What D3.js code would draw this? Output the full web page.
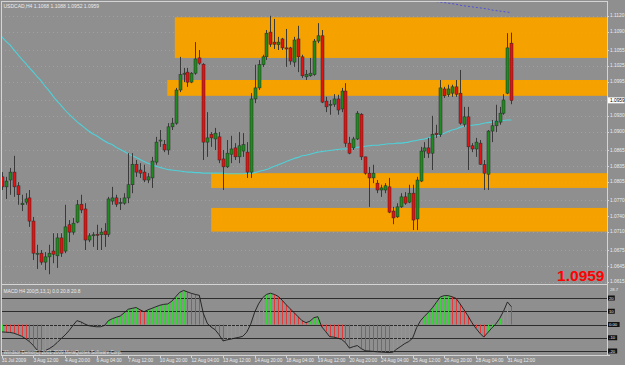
<!DOCTYPE html>
<html>
<head>
<meta charset="utf-8">
<script src="https://cdnjs.cloudflare.com/ajax/libs/d3/7.8.5/d3.min.js"></script>
<style>
  body { margin: 0; background: #8f8f8f; }
  svg { display: block; }
  text { font-family: "Liberation Sans", Arial, sans-serif; }
</style>
</head>
<body>
<div id="chart"></div>
<script>
const width = 625;
const height = 365;

// USDCAD H4 candles, bar 0 = 31 Jul 2009 04:00
const opens = [1.0814, 1.0795, 1.0808, 1.0823, 1.0797, 1.0761, 1.0766, 1.0774, 1.0730, 1.0667,
  1.0669, 1.0652, 1.0662, 1.0673, 1.0664, 1.0698, 1.0673, 1.0723, 1.0709, 1.0728,
  1.0762, 1.0753, 1.0694, 1.0702, 1.0705, 1.0704, 1.0711, 1.0705, 1.0768, 1.0774,
  1.0764, 1.0764, 1.0774, 1.0799, 1.0838, 1.0827, 1.0823, 1.0808, 1.0812, 1.0842,
  1.0882, 1.0876, 1.0865, 1.0909, 1.0916, 1.0979, 1.1009, 1.1013, 1.0994, 1.1011,
  1.1040, 1.1028, 1.0880, 1.0895, 1.0886, 1.0890, 1.0848, 1.0833, 1.0857, 1.0869,
  1.0852, 1.0863, 1.0861, 1.0823, 1.0962, 1.0983, 1.1027, 1.1042, 1.1089, 1.1070,
  1.1065, 1.1076, 1.1059, 1.1059, 1.1032, 1.1076, 1.1042, 1.1004, 1.1006, 1.1008,
  1.1072, 1.1082, 1.0958, 1.0951, 1.0952, 1.0962, 1.0943, 1.0977, 1.0878, 1.0869,
  1.0886, 1.0933, 1.0852, 1.0821, 1.0812, 1.0802, 1.0789, 1.0789, 1.0795, 1.0749,
  1.0738, 1.0757, 1.0776, 1.0766, 1.0783, 1.0734, 1.0806, 1.0863, 1.0869, 1.0859,
  1.0897, 1.0894, 1.0981, 1.0970, 1.0973, 1.0985, 1.0973, 1.0914, 1.0928, 1.0873,
  1.0867, 1.0878, 1.0837, 1.0819, 1.0901, 1.0911, 1.0918, 1.0935, 1.0973, 1.1068];
const highs = [1.0823, 1.0814, 1.0831, 1.0854, 1.0804, 1.0780, 1.0783, 1.0789, 1.0738, 1.0685,
  1.0675, 1.0671, 1.0685, 1.0707, 1.0707, 1.0707, 1.0761, 1.0732, 1.0736, 1.0770,
  1.0780, 1.0764, 1.0707, 1.0709, 1.0723, 1.0717, 1.0726, 1.0776, 1.0795, 1.0780,
  1.0774, 1.0783, 1.0859, 1.0859, 1.0846, 1.0840, 1.0837, 1.0821, 1.0852, 1.0890,
  1.0903, 1.0884, 1.0916, 1.0926, 1.0983, 1.1042, 1.1021, 1.1021, 1.1013, 1.1070,
  1.1055, 1.1030, 1.0937, 1.0899, 1.0907, 1.0899, 1.0865, 1.0884, 1.0892, 1.0878,
  1.0899, 1.0897, 1.0880, 1.0973, 1.1027, 1.1036, 1.1046, 1.1093, 1.1120, 1.1114,
  1.1080, 1.1078, 1.1095, 1.1061, 1.1080, 1.1101, 1.1046, 1.1017, 1.1040, 1.1076,
  1.1106, 1.1093, 1.0966, 1.0960, 1.0971, 1.0970, 1.0983, 1.0992, 1.0890, 1.0890,
  1.0939, 1.0935, 1.0852, 1.0833, 1.0837, 1.0808, 1.0799, 1.0802, 1.0812, 1.0757,
  1.0764, 1.0783, 1.0785, 1.0799, 1.0799, 1.0814, 1.0871, 1.0880, 1.0888, 1.0930,
  1.0913, 1.0998, 1.0985, 1.0989, 1.0989, 1.0998, 1.1017, 1.0947, 1.0947, 1.0878,
  1.0888, 1.0884, 1.0846, 1.0903, 1.0922, 1.0951, 1.0947, 1.0971, 1.1087, 1.1088];
const lows = [1.0789, 1.0772, 1.0780, 1.0776, 1.0761, 1.0749, 1.0761, 1.0719, 1.0656, 1.0639,
  1.0647, 1.0637, 1.0629, 1.0650, 1.0641, 1.0662, 1.0669, 1.0690, 1.0704, 1.0726,
  1.0745, 1.0675, 1.0690, 1.0681, 1.0675, 1.0675, 1.0681, 1.0700, 1.0761, 1.0757,
  1.0751, 1.0761, 1.0764, 1.0783, 1.0814, 1.0812, 1.0804, 1.0802, 1.0793, 1.0837,
  1.0871, 1.0861, 1.0856, 1.0903, 1.0913, 1.0975, 1.0994, 1.0985, 1.0992, 1.1008,
  1.1027, 1.0846, 1.0852, 1.0871, 1.0865, 1.0840, 1.0789, 1.0831, 1.0840, 1.0846,
  1.0840, 1.0852, 1.0812, 1.0812, 1.0954, 1.0979, 1.1023, 1.1036, 1.1061, 1.1057,
  1.1055, 1.1055, 1.1023, 1.1027, 1.1023, 1.1013, 1.1002, 1.0998, 1.1004, 1.1006,
  1.1068, 1.0954, 1.0937, 1.0932, 1.0947, 1.0932, 1.0937, 1.0871, 1.0857, 1.0865,
  1.0884, 1.0846, 1.0818, 1.0757, 1.0802, 1.0783, 1.0776, 1.0783, 1.0745, 1.0724,
  1.0736, 1.0755, 1.0761, 1.0764, 1.0713, 1.0713, 1.0804, 1.0850, 1.0850, 1.0827,
  1.0888, 1.0890, 1.0964, 1.0966, 1.0966, 1.0966, 1.0913, 1.0909, 1.0827, 1.0861,
  1.0852, 1.0837, 1.0789, 1.0789, 1.0880, 1.0899, 1.0913, 1.0932, 1.0971, 1.0952];
const closes = [1.0795, 1.0806, 1.0823, 1.0795, 1.0780, 1.0764, 1.0772, 1.0730, 1.0669, 1.0669,
  1.0652, 1.0662, 1.0669, 1.0667, 1.0698, 1.0669, 1.0719, 1.0709, 1.0726, 1.0761,
  1.0751, 1.0694, 1.0702, 1.0704, 1.0704, 1.0709, 1.0704, 1.0772, 1.0774, 1.0762,
  1.0765, 1.0774, 1.0799, 1.0838, 1.0823, 1.0821, 1.0808, 1.0814, 1.0844, 1.0880,
  1.0884, 1.0865, 1.0909, 1.0916, 1.0979, 1.1008, 1.1011, 1.0994, 1.1011, 1.1038,
  1.1030, 1.0880, 1.0888, 1.0888, 1.0897, 1.0846, 1.0833, 1.0859, 1.0867, 1.0852,
  1.0873, 1.0875, 1.0823, 1.0962, 1.0983, 1.1027, 1.1042, 1.1087, 1.1066, 1.1066,
  1.1070, 1.1059, 1.1057, 1.1034, 1.1074, 1.1042, 1.1006, 1.1009, 1.1011, 1.1072,
  1.1082, 1.0956, 1.0947, 1.0952, 1.0962, 1.0941, 1.0977, 1.0878, 1.0859, 1.0886,
  1.0935, 1.0852, 1.0821, 1.0812, 1.0821, 1.0789, 1.0793, 1.0797, 1.0747, 1.0736,
  1.0757, 1.0776, 1.0764, 1.0783, 1.0732, 1.0808, 1.0863, 1.0869, 1.0859, 1.0895,
  1.0894, 1.0983, 1.0968, 1.0981, 1.0985, 1.0971, 1.0916, 1.0928, 1.0871, 1.0867,
  1.0880, 1.0838, 1.0821, 1.0901, 1.0911, 1.0920, 1.0935, 1.0960, 1.1059, 1.0959];

// cyan moving average, one value per bar
const maValues = [1.1080, 1.1072, 1.1065, 1.1056, 1.1047, 1.1038, 1.1030, 1.1021, 1.1013, 1.1004,
  1.0996, 1.0986, 1.0977, 1.0967, 1.0958, 1.0950, 1.0941, 1.0933, 1.0926, 1.0919,
  1.0913, 1.0907, 1.0901, 1.0896, 1.0892, 1.0887, 1.0882, 1.0878, 1.0875, 1.0870,
  1.0866, 1.0862, 1.0858, 1.0854, 1.0851, 1.0847, 1.0843, 1.0840, 1.0837, 1.0834,
  1.0832, 1.0830, 1.0828, 1.0827, 1.0826, 1.0825, 1.0824, 1.0823, 1.0823, 1.0822,
  1.0822, 1.0821, 1.0821, 1.0821, 1.0821, 1.0821, 1.0821, 1.0820, 1.0820, 1.0820,
  1.0820, 1.0820, 1.0821, 1.0821, 1.0822, 1.0824, 1.0826, 1.0828, 1.0831, 1.0834,
  1.0837, 1.0840, 1.0843, 1.0846, 1.0849, 1.0851, 1.0854, 1.0855, 1.0857, 1.0859,
  1.0861, 1.0862, 1.0863, 1.0864, 1.0865, 1.0866, 1.0867, 1.0867, 1.0868, 1.0869,
  1.0870, 1.0871, 1.0872, 1.0873, 1.0874, 1.0874, 1.0875, 1.0876, 1.0877, 1.0877,
  1.0878, 1.0878, 1.0879, 1.0880, 1.0882, 1.0883, 1.0885, 1.0886, 1.0888, 1.0890,
  1.0892, 1.0894, 1.0897, 1.0900, 1.0903, 1.0905, 1.0908, 1.0910, 1.0911, 1.0912,
  1.0913, 1.0914, 1.0916, 1.0917, 1.0918, 1.0919, 1.0920, 1.0921, 1.0922, 1.0922];

// slow dotted average, only visible near the top right
const slowMaStart = 106;
const slowMaValues = [1.1152, 1.1150, 1.1149, 1.1148, 1.1147, 1.1146, 1.1145, 1.1144, 1.1143, 1.1142,
  1.1140, 1.1139, 1.1138, 1.1137, 1.1136, 1.1135, 1.1134, 1.1133, 1.1131, 1.1130,
  1.1129, 1.1128, 1.1127, 1.1126];

// MACD(5,13,1) histogram values per bar
const macdValues = [-5.6, -5.8, -6.0, -6.5, -7.6, -8.8, -10.7, -12.9, -15.9, -19.5,
  -20.4, -19.7, -18.2, -16.3, -13.7, -10.7, -8.0, -4.7, -0.8, 2.9,
  2.0, 0.4, -0.9, -1.4, -1.7, -1.7, -0.7, 2.9, 4.4, 5.5,
  6.4, 8.9, 11.5, 12.2, 12.8, 11.1, 9.6, 11.1, 12.2, 13.4,
  14.5, 15.2, 15.5, 17.5, 20.9, 24.2, 25.7, 24.6, 23.5, 22.7,
  22.0, 8.5, 1.0, -2.0, -3.9, -7.7, -12.4, -11.6, -11.0, -10.3,
  -9.7, -8.9, -5.8, 0.2, 9.2, 15.6, 20.1, 22.7, 23.6, 22.7,
  21.2, 18.2, 14.9, 11.9, 8.9, 5.9, 2.9, 1.4, 2.5, 5.1,
  5.9, -1.8, -5.4, -9.2, -9.5, -10.3, -11.2, -13.7, -17.8, -16.7,
  -15.9, -18.2, -19.8, -20.0, -20.3, -20.6, -20.8, -21.0, -21.2, -20.9,
  -18.5, -16.5, -14.4, -12.9, -10.3, -2.4, 2.9, 6.2, 9.2, 12.6,
  16.7, 20.8, 21.8, 21.8, 20.9, 19.7, 15.6, 11.1, 6.6, 1.4,
  -2.8, -6.5, -9.5, -6.2, -2.8, 0.2, 4.4, 10.0, 17.0, 13.4];

const priceTicks = [1.1120, 1.1090, 1.1055, 1.1025, 1.0995, 1.0930, 1.0900, 1.0865,
  1.0835, 1.0805, 1.0770, 1.0740, 1.0710, 1.0675, 1.0645, 1.0615];
const timeLabels = ['31 Jul 2009', '3 Aug 12:00', '4 Aug 20:00', '6 Aug 04:00', '7 Aug 12:00',
  '10 Aug 20:00', '12 Aug 04:00', '13 Aug 12:00', '14 Aug 20:00', '18 Aug 04:00',
  '19 Aug 12:00', '20 Aug 20:00', '24 Aug 04:00', '25 Aug 12:00', '26 Aug 20:00',
  '28 Aug 04:00', '31 Aug 12:00'];
const barsPerLabel = 8;

// orange support / resistance rectangles
const zoneStarts = [43.8, 41.9, 53, 53];
const zoneTops = [1.1117, 1.0998, 1.0821, 1.0755];
const zoneBottoms = [1.1040, 1.0968, 1.0793, 1.0710];

const macdLevels = [20, 10, 0, -10, -20];
const macdLevelLabels = ['20', '10', '0.00', '-10', '-20'];
const lastPrice = 1.0959;
const title = 'USDCAD,H4  1.1068 1.1088 1.0952 1.0959';
const macdTitle = 'MACD H4 200(5,13,1) 0.0 20.8 20.8';
const copyright = 'Windsor Demo(C) 2001-2009 MetaQuotes Software Corp.';

// scales
const plotRight = 607;
const mainTop = 2;
const mainBottom = 284;
const macdTop = 286;
const macdBottom = 355;

const x = d3.scaleLinear().domain([0, 129]).range([1.8, 511.4]);
const y = d3.scaleLinear().domain([1.1150, 1.0615]).range([0, 281.6]);
const yMacd = d3.scaleLinear().domain([-20, 20]).range([351, 298]);

const bg = '#8f8f8f';
const frameColor = '#d4d4d4';
const textColor = '#ececec';
const axisFont = 4.8;

const svg = d3.select('#chart')
  .append('svg')
  .attr('width', width)
  .attr('height', height);

svg.append('rect')
  .attr('width', width)
  .attr('height', height)
  .attr('fill', bg);

const defs = svg.append('defs');
defs.append('clipPath').attr('id', 'main-clip')
  .append('rect')
  .attr('x', 1).attr('y', mainTop)
  .attr('width', plotRight - 1).attr('height', mainBottom - mainTop);
defs.append('clipPath').attr('id', 'macd-clip')
  .append('rect')
  .attr('x', 1).attr('y', macdTop)
  .attr('width', plotRight - 1).attr('height', macdBottom - macdTop);

const main = svg.append('g').attr('clip-path', 'url(#main-clip)');

// zones
main.selectAll('rect.zone')
  .data(zoneStarts)
  .enter().append('rect')
  .attr('class', 'zone')
  .attr('x', (d) => x(d))
  .attr('y', (d, i) => y(zoneTops[i]))
  .attr('width', (d) => plotRight - x(d))
  .attr('height', (d, i) => y(zoneBottoms[i]) - y(zoneTops[i]))
  .attr('fill', '#f5a200');

// dotted grid
main.selectAll('line.hgrid')
  .data(priceTicks.concat([1.0960]))
  .enter().append('line')
  .attr('x1', 1).attr('x2', plotRight)
  .attr('y1', (d) => Math.round(y(d)) + 0.5)
  .attr('y2', (d) => Math.round(y(d)) + 0.5)
  .attr('stroke', '#aeaebc')
  .attr('stroke-width', 0.5)
  .attr('stroke-dasharray', '1,3');

// moving averages
const maLine = d3.line()
  .x((d, i) => x(i))
  .y((d) => y(d))
  .curve(d3.curveMonotoneX);

main.append('path')
  .attr('d', maLine(maValues))
  .attr('fill', 'none')
  .attr('stroke', '#4fd0d8')
  .attr('stroke-width', 1.1);

main.append('path')
  .attr('d', d3.line()
    .x((d, i) => x(slowMaStart + i))
    .y((d) => y(d))(slowMaValues))
  .attr('fill', 'none')
  .attr('stroke', '#5050e0')
  .attr('stroke-width', 1)
  .attr('stroke-dasharray', '2,2');

// candles
const bars = d3.range(opens.length);
const candle = main.selectAll('g.candle')
  .data(bars)
  .enter().append('g')
  .attr('class', 'candle');

candle.append('line')
  .attr('x1', (i) => Math.round(x(i)) + 0.5)
  .attr('x2', (i) => Math.round(x(i)) + 0.5)
  .attr('y1', (i) => y(highs[i]))
  .attr('y2', (i) => y(lows[i]))
  .attr('stroke', '#3a3a3a')
  .attr('stroke-width', 1);

candle.append('rect')
  .attr('x', (i) => Math.round(x(i)) - 1)
  .attr('y', (i) => y(Math.max(opens[i], closes[i])))
  .attr('width', 3)
  .attr('height', (i) => Math.max(1, Math.abs(y(opens[i]) - y(closes[i]))))
  .attr('fill', (i) => closes[i] >= opens[i] ? '#1f8a1f' : '#e41212')
  .attr('stroke', '#2b2b2b')
  .attr('stroke-width', 0.5);

// MACD window
const macd = svg.append('g').attr('clip-path', 'url(#macd-clip)');

macd.selectAll('line.level')
  .data(macdLevels)
  .enter().append('line')
  .attr('x1', 1).attr('x2', plotRight)
  .attr('y1', (d) => Math.round(yMacd(d)) + 0.5)
  .attr('y2', (d) => Math.round(yMacd(d)) + 0.5)
  .attr('stroke', '#2c2c2c')
  .attr('stroke-width', 1);

macd.selectAll('line.hist')
  .data(bars)
  .enter().append('line')
  .attr('x1', (i) => Math.round(x(i)) + 0.5)
  .attr('x2', (i) => Math.round(x(i)) + 0.5)
  .attr('y1', yMacd(0))
  .attr('y2', (i) => yMacd(macdValues[i]))
  .attr('stroke', (i) => (i > 0 && macdValues[i] < macdValues[i - 1]) ? '#e03a3a' : '#36d636')
  .attr('stroke-width', 1);

macd.append('path')
  .attr('d', d3.line().x((d, i) => x(i)).y((d) => yMacd(d))(macdValues))
  .attr('fill', 'none')
  .attr('stroke', '#1c1c1c')
  .attr('stroke-width', 0.9);

// frame
const frame = svg.append('g').attr('stroke', frameColor).attr('stroke-width', 1);
frame.append('line').attr('x1', 1).attr('x2', plotRight).attr('y1', 1.5).attr('y2', 1.5);
frame.append('line').attr('x1', 1.5).attr('x2', 1.5).attr('y1', 1).attr('y2', macdBottom);
frame.append('line').attr('x1', plotRight + 0.5).attr('x2', plotRight + 0.5).attr('y1', 1).attr('y2', macdBottom + 1);
frame.append('line').attr('x1', 1).attr('x2', plotRight).attr('y1', mainBottom + 0.5).attr('y2', mainBottom + 0.5);
frame.append('line').attr('x1', 1).attr('x2', plotRight + 3).attr('y1', macdBottom + 0.5).attr('y2', macdBottom + 0.5);

// price axis
svg.selectAll('text.price')
  .data(priceTicks)
  .enter().append('text')
  .attr('x', 610)
  .attr('y', (d) => y(d) + 1.7)
  .attr('font-size', axisFont)
  .attr('fill', textColor)
  .text((d) => d.toFixed(4));

svg.selectAll('line.ptick')
  .data(priceTicks)
  .enter().append('line')
  .attr('x1', plotRight).attr('x2', plotRight + 2)
  .attr('y1', (d) => Math.round(y(d)) + 0.5)
  .attr('y2', (d) => Math.round(y(d)) + 0.5)
  .attr('stroke', frameColor);

svg.append('rect')
  .attr('x', plotRight + 1)
  .attr('y', y(lastPrice) - 3.2)
  .attr('width', 16.5)
  .attr('height', 6)
  .attr('fill', '#ffffff');
svg.append('text')
  .attr('x', 610)
  .attr('y', y(lastPrice) + 1.7)
  .attr('font-size', axisFont)
  .attr('fill', '#000')
  .text(lastPrice.toFixed(4));

// time axis
svg.selectAll('text.time')
  .data(timeLabels)
  .enter().append('text')
  .attr('x', (d, i) => x(i * barsPerLabel))
  .attr('y', 361.8)
  .attr('font-size', 4.7)
  .attr('fill', textColor)
  .text((d) => d);

svg.selectAll('line.ttick')
  .data(timeLabels)
  .enter().append('line')
  .attr('x1', (d, i) => Math.round(x(i * barsPerLabel)) + 0.5)
  .attr('x2', (d, i) => Math.round(x(i * barsPerLabel)) + 0.5)
  .attr('y1', macdBottom).attr('y2', macdBottom + 3)
  .attr('stroke', frameColor);

// MACD level labels
const lvl = svg.selectAll('g.lvl')
  .data(macdLevels)
  .enter().append('g');
lvl.append('rect')
  .attr('x', plotRight + 1)
  .attr('y', (d) => yMacd(d) - 2.5)
  .attr('width', (d, i) => macdLevelLabels[i].length * 2.4 + 2)
  .attr('height', 5)
  .attr('fill', '#111');
lvl.append('text')
  .attr('x', plotRight + 2)
  .attr('y', (d) => yMacd(d) + 1.6)
  .attr('font-size', 4.2)
  .attr('fill', '#eee')
  .text((d, i) => macdLevelLabels[i]);

svg.append('text')
  .attr('x', plotRight + 3).attr('y', 290.5)
  .attr('font-size', 4.2).attr('fill', textColor)
  .text('28.7');

// titles
svg.append('text')
  .attr('x', 3.5).attr('y', 7.5)
  .attr('font-size', 5).attr('fill', textColor)
  .text(title);
svg.append('text')
  .attr('x', 3.5).attr('y', 292.5)
  .attr('font-size', 4.8).attr('fill', textColor)
  .text(macdTitle);
svg.append('text')
  .attr('x', 3.5).attr('y', 353.5)
  .attr('font-size', 4.6).attr('fill', '#e0e0e0')
  .text(copyright);

// big last price
svg.append('text')
  .attr('x', 604.5).attr('y', 280.7)
  .attr('text-anchor', 'end')
  .attr('font-size', 15.5)
  .attr('font-weight', 'bold')
  .attr('fill', '#ff0000')
  .text(lastPrice.toFixed(4));
</script>
</body>
</html>
